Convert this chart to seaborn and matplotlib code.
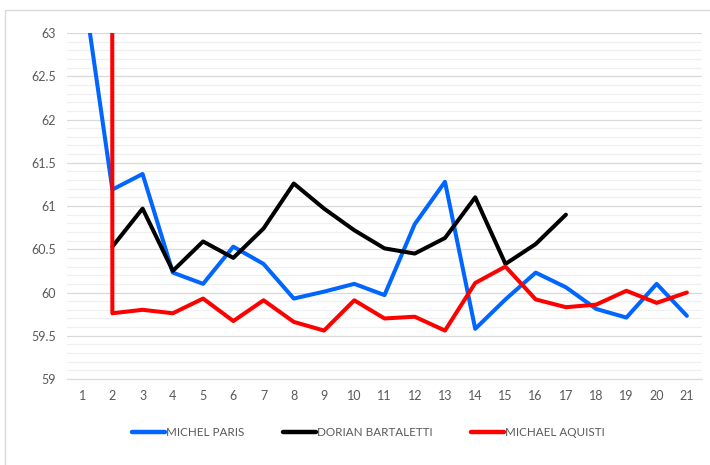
import pandas as pd
import numpy as np
import seaborn as sns
import matplotlib.pyplot as plt
from matplotlib.lines import Line2D
from matplotlib.ticker import MultipleLocator, FuncFormatter

# Lap numbers and lap times for each driver
laps = list(range(1, 22))
michel_paris = [63.63, 61.19, 61.37, 60.23, 60.10, 60.53, 60.33, 59.93, 60.01, 60.10,
                59.97, 60.79, 61.28, 59.58, 59.92, 60.23, 60.06, 59.81, 59.71, 60.10, 59.73]
dorian_bartaletti = [np.nan, 60.53, 60.97, 60.25, 60.59, 60.40, 60.74, 61.26, 60.97, 60.72,
                     60.51, 60.45, 60.63, 61.10, 60.33, 60.56, 60.90]
michael_aquisti = [1000.0, 59.76, 59.80, 59.76, 59.93, 59.67, 59.91, 59.66, 59.56, 59.91,
                   59.70, 59.72, 59.56, 60.11, 60.30, 59.92, 59.83, 59.86, 60.02, 59.88, 60.00]

names = ["MICHEL PARIS", "DORIAN BARTALETTI", "MICHAEL AQUISTI"]
colors = ["#0066ff", "#000000", "#ff0000"]

# Building a long dataframe for seaborn
frames = []
for name, vals in zip(names, [michel_paris, dorian_bartaletti, michael_aquisti]):
    frames.append(pd.DataFrame({"lap": laps[:len(vals)], "time": vals, "driver": name}))
df = pd.concat(frames, ignore_index=True).dropna()

sns.set_style("white")
plt.rcParams['font.family'] = ['Lato', 'DejaVu Sans']

fig = plt.figure(figsize=(7.1, 4.65), dpi=100)
ax = fig.add_axes([67 / 710, 1 - 379 / 465, 635 / 710, 346 / 465])

sns.lineplot(data=df, x="lap", y="time", hue="driver", hue_order=names,
             palette=colors, linewidth=2.9, sort=False, ax=ax, clip_on=True)

ax.set_xlim(0.5, 21.5)
ax.set_ylim(59, 63)
ax.set_xticks(laps)
ax.yaxis.set_major_locator(MultipleLocator(0.5))
ax.yaxis.set_minor_locator(MultipleLocator(0.1))
ax.yaxis.set_major_formatter(FuncFormatter(lambda v, p: f"{v:g}"))
ax.grid(which="major", axis="y", color="#d9d9d9", linewidth=0.9)
ax.grid(which="minor", axis="y", color="#f0f0f0", linewidth=0.9)
ax.set_axisbelow(True)
for side in ["top", "right", "left"]:
    ax.spines[side].set_visible(False)
ax.spines["bottom"].set_color("#d9d9d9")
ax.tick_params(axis="both", which="both", length=0, labelsize=9, labelcolor="#595959", pad=8)
ax.set_xlabel("")
ax.set_ylabel("")

leg = ax.legend(loc="center", bbox_to_anchor=(0.475, -0.155), ncol=3, frameon=False,
                fontsize=8.4, handlelength=2.8, handletextpad=0.1, columnspacing=3.3)
for text in leg.get_texts():
    text.set_color("#595959")
for line in leg.get_lines():
    line.set_linewidth(3.2)
    line.set_solid_capstyle("round")

# Light grey chart border (only left and top edges are in view)
x0, y0 = 5 / 710, 1 - 10 / 465
fig.lines.append(Line2D([x0, x0, 1.0], [0.0, y0, y0], transform=fig.transFigure,
                        color="#d9d9d9", linewidth=1))

plt.savefig("out.png", dpi=100)
